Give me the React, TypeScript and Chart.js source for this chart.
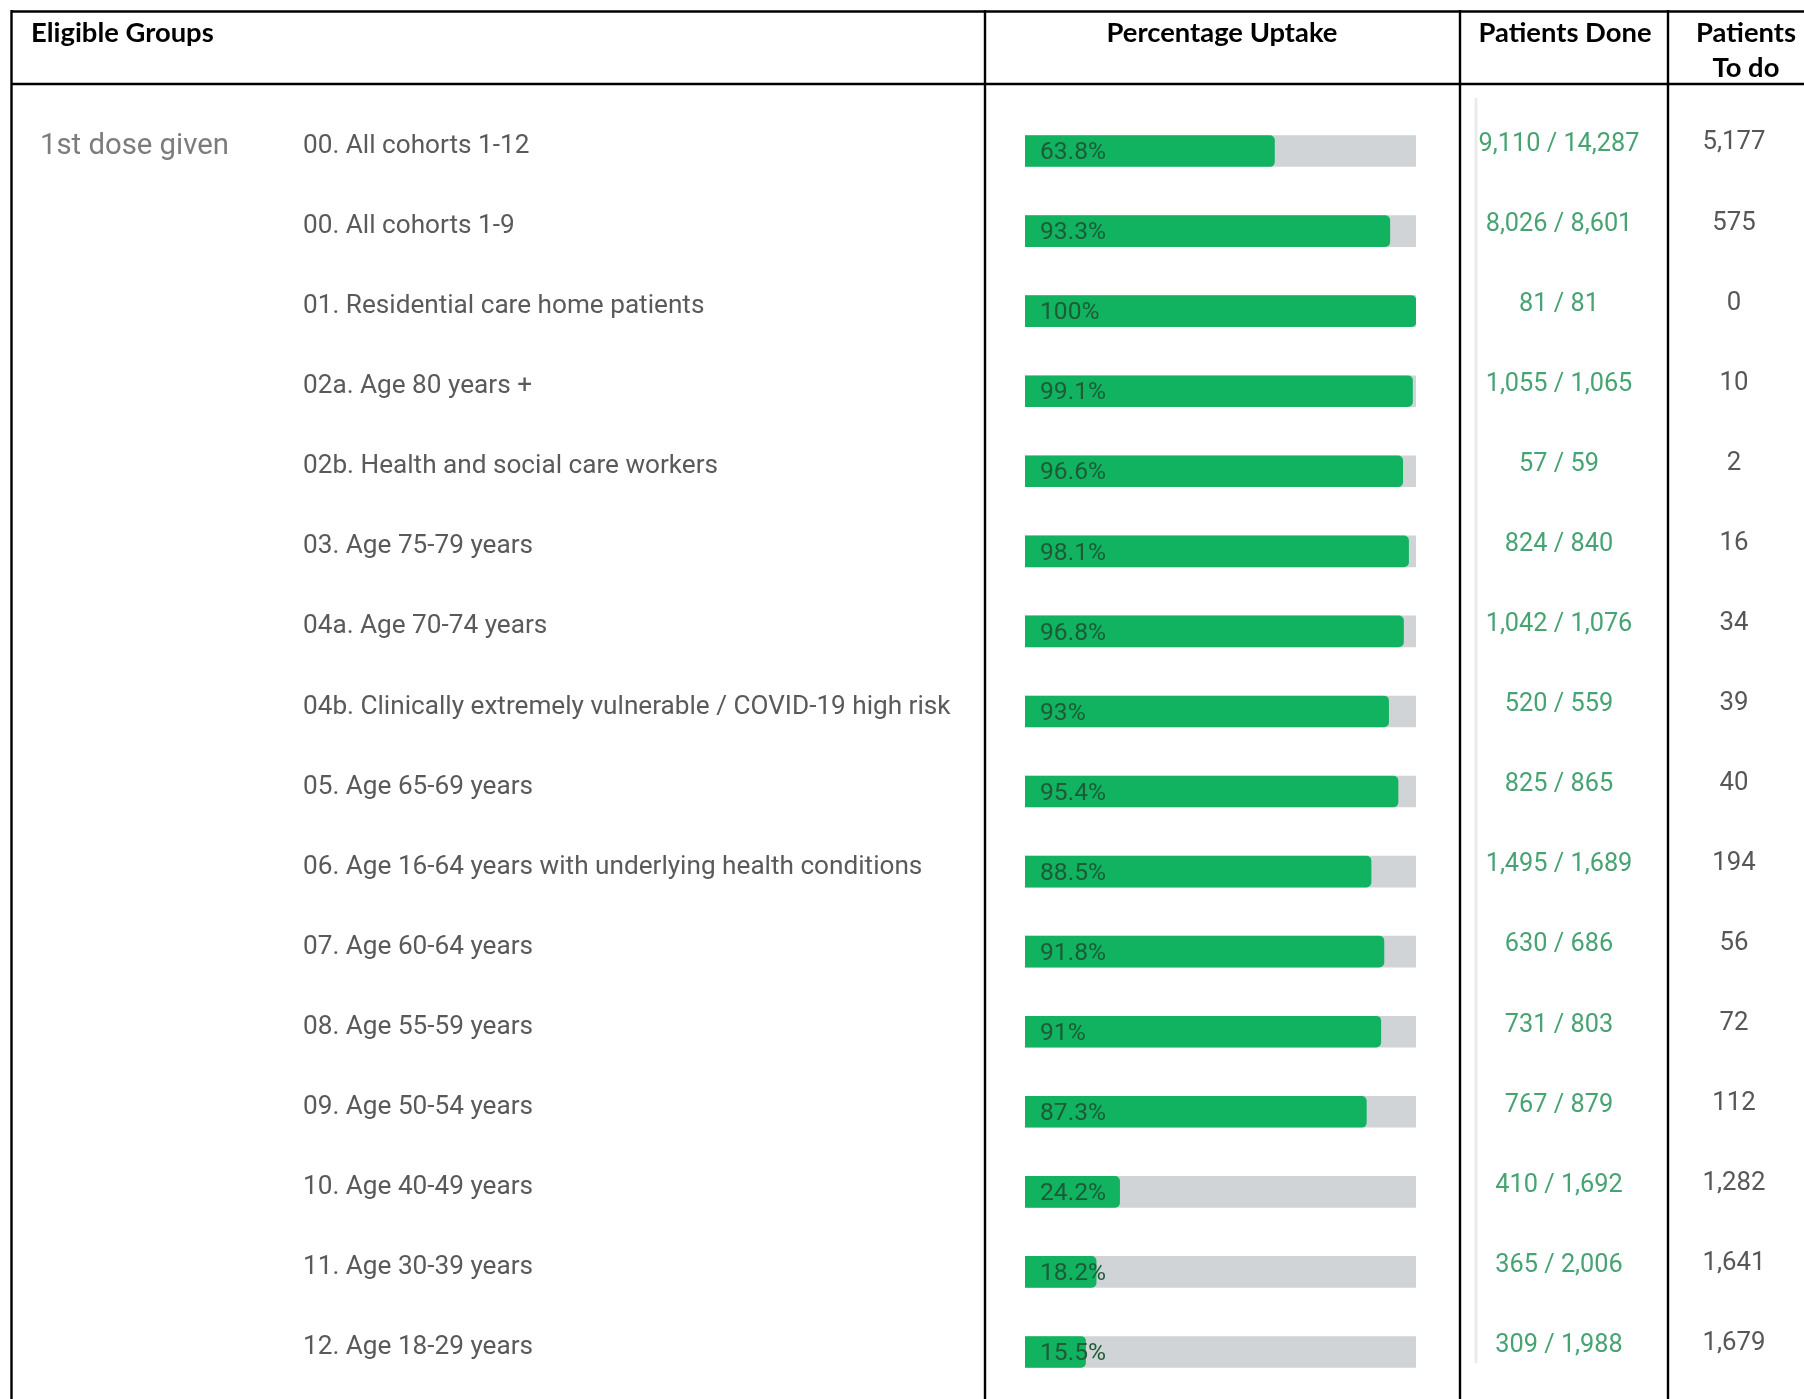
import React, { useEffect, useRef } from "react";
import { Chart, registerables } from "chart.js";

Chart.register(...registerables);

const doseGroup = "1st dose given";

const groups = [
  "00. All cohorts 1-12",
  "00. All cohorts 1-9",
  "01. Residential care home patients",
  "02a. Age 80 years +",
  "02b. Health and social care workers",
  "03. Age 75-79 years",
  "04a. Age 70-74 years",
  "04b. Clinically extremely vulnerable / COVID-19 high risk",
  "05. Age 65-69 years",
  "06. Age 16-64 years with underlying health conditions",
  "07. Age 60-64 years",
  "08. Age 55-59 years",
  "09. Age 50-54 years",
  "10. Age 40-49 years",
  "11. Age 30-39 years",
  "12. Age 18-29 years",
];

const uptake = [63.8, 93.3, 100, 99.1, 96.6, 98.1, 96.8, 93, 95.4, 88.5, 91.8, 91, 87.3, 24.2, 18.2, 15.5];
const track = [100, 100, 100, 100, 100, 100, 100, 100, 100, 100, 100, 100, 100, 100, 100, 100];
const done = [9110, 8026, 81, 1055, 57, 824, 1042, 520, 825, 1495, 630, 731, 767, 410, 365, 309];
const total = [14287, 8601, 81, 1065, 59, 840, 1076, 559, 865, 1689, 686, 803, 879, 1692, 2006, 1988];
const toDo = [5177, 575, 0, 10, 2, 16, 34, 39, 40, 194, 56, 72, 112, 1282, 1641, 1679];

const headers = {
  groups: "Eligible Groups",
  uptake: "Percentage Uptake",
  done: "Patients Done",
  todo1: "Patients",
  todo2: "To do",
};

const fmt = (n: number) => n.toLocaleString("en-US");

function fitSize(ctx: CanvasRenderingContext2D, text: string, family: string, weight: string, target: number) {
  ctx.font = `${weight} 100px ${family}`;
  const w = ctx.measureText(text).width;
  return (100 * target) / w;
}

const BODY = "Roboto, 'Noto Sans', sans-serif";
const HEAD = "Lato, 'Liberation Sans', sans-serif";

const tablePlugin = {
  id: "tablePlugin",
  beforeDraw(chart: any) {
    const ctx: CanvasRenderingContext2D = chart.ctx;
    const W = chart.width;
    const H = chart.height;
    ctx.save();
    ctx.fillStyle = "#ffffff";
    ctx.fillRect(0, 0, W, H);

    // faint panel edge
    ctx.strokeStyle = "#ebebeb";
    ctx.lineWidth = 3;
    ctx.beginPath();
    ctx.moveTo(1476, 98);
    ctx.lineTo(1476, 1363);
    ctx.stroke();

    // grid
    ctx.strokeStyle = "#000000";
    ctx.lineWidth = 2.4;
    ctx.beginPath();
    ctx.moveTo(11.5, 11.5);
    ctx.lineTo(W, 11.5);
    ctx.moveTo(11.5, 84);
    ctx.lineTo(W, 84);
    ctx.moveTo(11.5, 10);
    ctx.lineTo(11.5, H);
    for (const x of [985, 1460, 1668]) {
      ctx.moveTo(x, 10);
      ctx.lineTo(x, H);
    }
    ctx.stroke();

    // headers
    const hs = fitSize(ctx, headers.uptake, HEAD, "bold", 231);
    ctx.font = `bold ${hs}px ${HEAD}`;
    ctx.fillStyle = "#000000";
    ctx.textBaseline = "middle";
    ctx.textAlign = "left";
    ctx.fillText(headers.groups, 31, 33);
    ctx.textAlign = "center";
    ctx.fillText(headers.uptake, 1222, 33);
    ctx.fillText(headers.done, 1565, 33);
    ctx.fillText(headers.todo1, 1746, 33);
    ctx.fillText(headers.todo2, 1746, 68);

    // rows
    const y = chart.scales.y;
    const ls = fitSize(ctx, groups[7], BODY, "normal", 648);
    const gs = fitSize(ctx, doseGroup, BODY, "normal", 189);
    const ds = fitSize(ctx, "9,110 / 14,287", BODY, "normal", 161);
    const ts = fitSize(ctx, "5,177", BODY, "normal", 63);

    groups.forEach((g, i) => {
      const cy = y.getPixelForValue(i);
      if (i === 0) {
        ctx.font = `normal ${gs}px ${BODY}`;
        ctx.fillStyle = "#7c7c7c";
        ctx.textAlign = "left";
        ctx.fillText(doseGroup, 40, cy - 4);
      }
      ctx.font = `normal ${ls}px ${BODY}`;
      ctx.fillStyle = "#5a5a5a";
      ctx.textAlign = "left";
      ctx.fillText(g, 303, cy - 4.5);

      ctx.font = `normal ${ds}px ${BODY}`;
      ctx.fillStyle = "#47a372";
      ctx.textAlign = "center";
      ctx.fillText(`${fmt(done[i])} / ${fmt(total[i])}`, 1559, cy - 6.5);

      ctx.font = `normal ${ts}px ${BODY}`;
      ctx.fillStyle = "#575757";
      ctx.textAlign = "center";
      ctx.fillText(fmt(toDo[i]), 1734, cy - 8);
    });
    ctx.restore();
  },
  afterDatasetsDraw(chart: any) {
    const ctx: CanvasRenderingContext2D = chart.ctx;
    const y = chart.scales.y;
    const x = chart.scales.x;
    ctx.save();
    const ps = fitSize(ctx, "63.8%", BODY, "normal", 66);
    ctx.font = `normal ${ps}px ${BODY}`;
    ctx.fillStyle = "#1d5b36";
    ctx.textAlign = "left";
    ctx.textBaseline = "middle";
    uptake.forEach((v, i) => {
      ctx.fillText(`${v}%`, x.left + 15, y.getPixelForValue(i) + 2);
    });
    ctx.restore();
  },
};

export default function App() {
  const ref = useRef<HTMLCanvasElement>(null);
  useEffect(() => {
    const chart = new Chart(ref.current as HTMLCanvasElement, {
      type: "bar",
      data: {
        labels: groups,
        datasets: [
          {
            data: uptake,
            backgroundColor: "#11b360",
            barThickness: 31,
            borderRadius: 5,
            grouped: false,
            order: 0,
          } as any,
          {
            data: track,
            backgroundColor: "#d1d4d6",
            barThickness: 31,
            borderRadius: 0,
            grouped: false,
            order: 1,
          } as any,
        ],
      },
      options: {
        indexAxis: "y",
        responsive: false,
        animation: false,
        devicePixelRatio: 1,
        layout: { padding: { left: 1025, right: 388, top: 111, bottom: 7 } },
        scales: {
          x: { min: 0, max: 100, display: false },
          y: { display: false },
        },
        plugins: {
          legend: { display: false },
          tooltip: { enabled: false },
        },
      },
      plugins: [tablePlugin],
    });
    return () => chart.destroy();
  }, []);
  return (
    <div style={{ position: "fixed", left: 0, top: 0, width: 1804, height: 1399, background: "#fff" }}>
      <canvas ref={ref} width={1804} height={1399} style={{ width: 1804, height: 1399, display: "block" }} />
    </div>
  );
}
